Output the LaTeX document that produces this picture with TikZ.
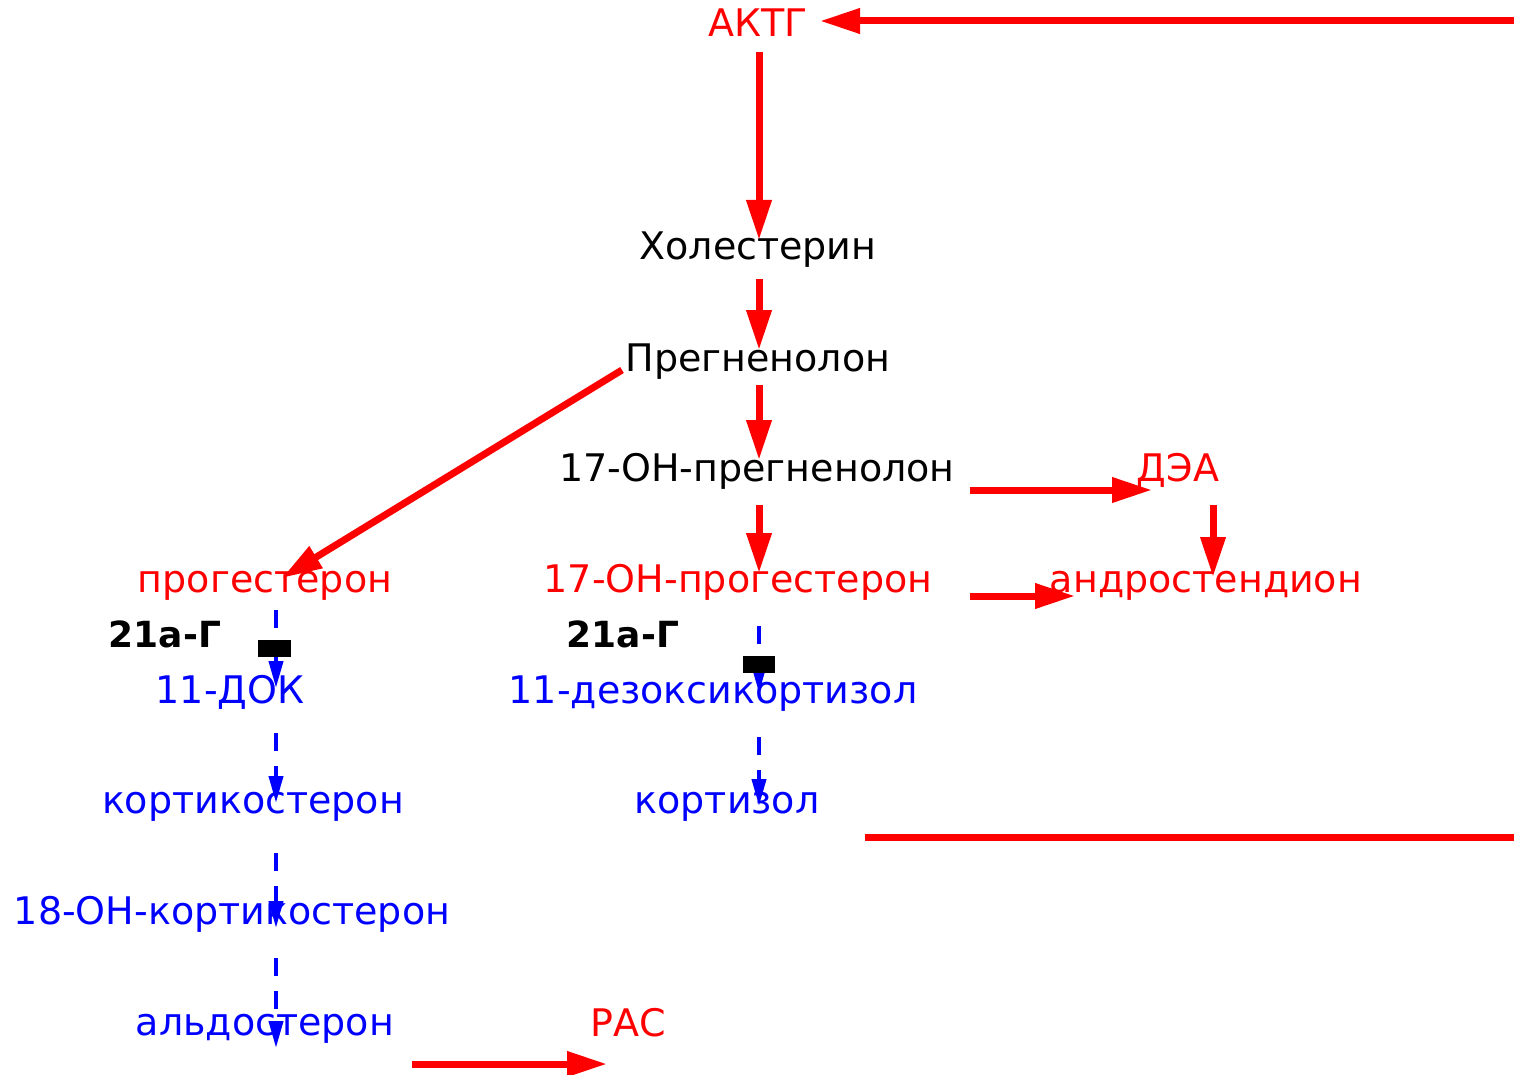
\documentclass[tikz,border=0pt]{standalone}
\usepackage{fontspec}
\setmainfont{DejaVu Sans}
\usetikzlibrary{arrows.meta,calc}
\definecolor{rd}{RGB}{255,0,0}
\definecolor{bl}{RGB}{0,0,255}
\begin{document}
\begin{tikzpicture}[x=0.5pt,y=-0.5pt,
  lbl/.style={inner sep=0pt,anchor=base,font=\fontsize{19}{22}\selectfont},
  blk/.style={lbl,text=black},
  rdt/.style={lbl,text=rd},
  blt/.style={lbl,text=bl},
  enz/.style={lbl,text=black,font=\fontsize{18}{21}\selectfont\bfseries},
  ra/.style={draw=rd,line width=3.5pt,-{Triangle[length=20pt,width=12pt]}},
  rl/.style={draw=rd,line width=3.5pt},
  ba/.style={draw=bl,line width=2pt,dash pattern=on 9pt off 7.5pt,-{Triangle[length=13.5pt,width=7pt]}},
]
\useasboundingbox (0,0) rectangle (1514,1075);
% texts
\node[rdt] (aktg) at (758,37) {АКТГ};
\node[blk] (hol) at (758,259) {Холестерин};
\node[blk] (preg) at (758,371) {Прегненолон};
\node[blk] (p17) at (757,481) {17-ОН-прегненолон};
\node[rdt] (dea) at (1178,481) {ДЭА};
\node[rdt] (prog) at (265,592) {прогестерон};
\node[rdt] (prog17) at (738,592) {17-ОН-прогестерон};
\node[rdt] (andr) at (1206,592) {андростендион};
\node[enz] (enz1) at (165,647) {21а-Г};
\node[enz] (enz2) at (623,647) {21а-Г};
\node[blt] (dok) at (230,703) {11-ДОК};
\node[blt] (dez) at (713,703) {11-дезоксикортизол};
\node[blt] (kortik) at (253,813) {кортикостерон};
\node[blt] (kortiz) at (727,813) {кортизол};
\node[blt] (oh18) at (232,924) {18-ОН-кортикостерон};
\node[blt] (aldo) at (265,1035) {альдостерон};
\node[rdt] (ras) at (628,1036) {РАС};
\coordinate (fbin) at (1514,21);
\coordinate (fbout) at (1514,837);
% red arrows
\draw[ra] (fbin) -- ($(aktg.base)+(62,-16)$);
\draw[ra] ($(aktg.base)+(1,15)$) -- ($(hol.base)+(1,-19)$);
\draw[ra] ($(hol.base)+(1,20)$) -- ($(preg.base)+(1,-21)$);
\draw[ra] ($(preg.base)+(1,14)$) -- ($(p17.base)+(2,-21)$);
\draw[ra] ($(preg.base)+(-136,-1)$) -- ($(prog.base)+(17,-14)$);
\draw[ra] ($(p17.base)+(213,9)$) -- ($(dea.base)+(-26,9)$);
\draw[ra] ($(dea.base)+(35,24)$) -- ($(andr.base)+(7,-15)$);
\draw[ra] ($(p17.base)+(2,24)$) -- ($(prog17.base)+(21,-19)$);
\draw[ra] ($(prog17.base)+(232,4)$) -- ($(andr.base)+(-131,4)$);
\draw[rl] ($(kortiz.base)+(138,24)$) -- (fbout);
\draw[ra] ($(aldo.base)+(147,29)$) -- ($(ras.base)+(-21,28)$);
% blue dashed arrows
\draw[ba] ($(prog.base)+(11,18)$) -- ($(dok.base)+(46,-15)$);
\draw[ba] ($(dok.base)+(46,30)$) -- ($(kortik.base)+(23,-10)$);
\draw[ba] ($(kortik.base)+(23,40)$) -- ($(oh18.base)+(44,4)$);
\draw[ba] ($(oh18.base)+(44,34)$) -- ($(aldo.base)+(11,13)$);
\draw[ba] ($(prog17.base)+(21,34)$) -- ($(dez.base)+(46,-10)$);
\draw[ba] ($(dez.base)+(46,34)$) -- ($(kortiz.base)+(32,-7)$);
% enzyme blocks
\fill[black] (258,640) rectangle (291,657);
\fill[black] (743,656) rectangle (775,673);
\end{tikzpicture}
\end{document}
